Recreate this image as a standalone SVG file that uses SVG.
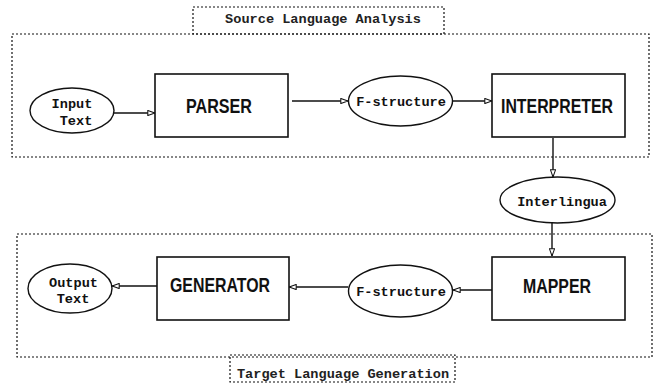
<svg xmlns="http://www.w3.org/2000/svg" width="654" height="383" viewBox="0 0 654 383">
  <style>
    .frame { fill: none; stroke: #111; stroke-width: 1.2; stroke-dasharray: 2 2; }
    .box { fill: #fff; stroke: #111; stroke-width: 1.6; }
    .oval { fill: #fff; stroke: #111; stroke-width: 1.4; }
    .mono { font-family: "Liberation Mono", "Courier New", monospace; font-size: 13.6px; font-weight: bold; fill: #111; }
    .label { font-family: "Liberation Mono", "Courier New", monospace; font-size: 13.6px; font-weight: bold; fill: #222; }
    .title { font-family: "Liberation Sans", Arial, sans-serif; font-size: 19.5px; font-weight: bold; fill: #111; }
    .edge { fill: none; stroke: #111; stroke-width: 1.4; marker-end: url(#tri); }
  </style>
  <defs>
    <marker id="tri" viewBox="0 0 10 8" refX="9.5" refY="4" markerWidth="8" markerHeight="6.4" markerUnits="userSpaceOnUse" orient="auto">
      <path d="M0.5,0.8 L9.5,4 L0.5,7.2 Z" fill="#fff" stroke="#111" stroke-width="1.3"/>
    </marker>
  </defs>
  <rect width="654" height="383" fill="#fff"/>

  <!-- stage frames and their captions -->
  <g id="source-stage">
    <rect class="frame" x="12" y="34" width="637" height="123"/>
    <rect class="frame" x="193" y="7" width="251" height="27"/>
    <text class="label" x="323" y="23" text-anchor="middle">Source Language Analysis</text>
  </g>
  <g id="target-stage">
    <rect class="frame" x="17" y="234" width="635" height="123"/>
    <rect class="frame" x="230" y="355" width="225" height="27"/>
    <text class="label" x="343" y="378" text-anchor="middle">Target Language Generation</text>
  </g>

  <!-- connectors -->
  <g id="connectors">
    <line class="edge" x1="114" y1="113" x2="155" y2="113"/>
    <line class="edge" x1="292" y1="101" x2="348" y2="101"/>
    <line class="edge" x1="453" y1="101" x2="492" y2="101"/>
    <line class="edge" x1="553" y1="138" x2="553" y2="177"/>
    <line class="edge" x1="552" y1="223" x2="552" y2="256"/>
    <line class="edge" x1="492" y1="290" x2="453" y2="290"/>
    <line class="edge" x1="348" y1="287" x2="289" y2="287"/>
    <line class="edge" x1="157" y1="286" x2="112" y2="286"/>
  </g>

  <!-- nodes -->
  <g id="input-text">
    <ellipse class="oval" cx="72" cy="110.5" rx="42" ry="22.5"/>
    <text class="mono" x="72" y="108" text-anchor="middle">Input</text>
    <text class="mono" x="76" y="125" text-anchor="middle">Text</text>
  </g>
  <g id="parser">
    <rect class="box" x="155" y="74" width="133" height="63"/>
    <text class="title" x="219" y="113" text-anchor="middle" textLength="66" lengthAdjust="spacingAndGlyphs">PARSER</text>
  </g>
  <g id="fstructure-source">
    <ellipse class="oval" cx="400.5" cy="101" rx="52" ry="25"/>
    <text class="mono" x="401" y="106" text-anchor="middle">F-structure</text>
  </g>
  <g id="interpreter">
    <rect class="box" x="492" y="74" width="133" height="63"/>
    <text class="title" x="557" y="113" text-anchor="middle" textLength="112" lengthAdjust="spacingAndGlyphs">INTERPRETER</text>
  </g>
  <g id="interlingua">
    <ellipse class="oval" cx="557.5" cy="200" rx="57.5" ry="23"/>
    <text class="mono" x="562" y="206" text-anchor="middle">Interlingua</text>
  </g>
  <g id="mapper">
    <rect class="box" x="492" y="257" width="133" height="63"/>
    <text class="title" x="557" y="293" text-anchor="middle" textLength="68" lengthAdjust="spacingAndGlyphs">MAPPER</text>
  </g>
  <g id="fstructure-target">
    <ellipse class="oval" cx="400.5" cy="291" rx="52" ry="26"/>
    <text class="mono" x="401" y="296" text-anchor="middle">F-structure</text>
  </g>
  <g id="generator">
    <rect class="box" x="157" y="257" width="132" height="63"/>
    <text class="title" x="220" y="292" text-anchor="middle" textLength="100" lengthAdjust="spacingAndGlyphs">GENERATOR</text>
  </g>
  <g id="output-text">
    <ellipse class="oval" cx="70" cy="288.5" rx="42" ry="24.5"/>
    <text class="mono" x="73.5" y="287" text-anchor="middle">Output</text>
    <text class="mono" x="73" y="303" text-anchor="middle">Text</text>
  </g>
</svg>
